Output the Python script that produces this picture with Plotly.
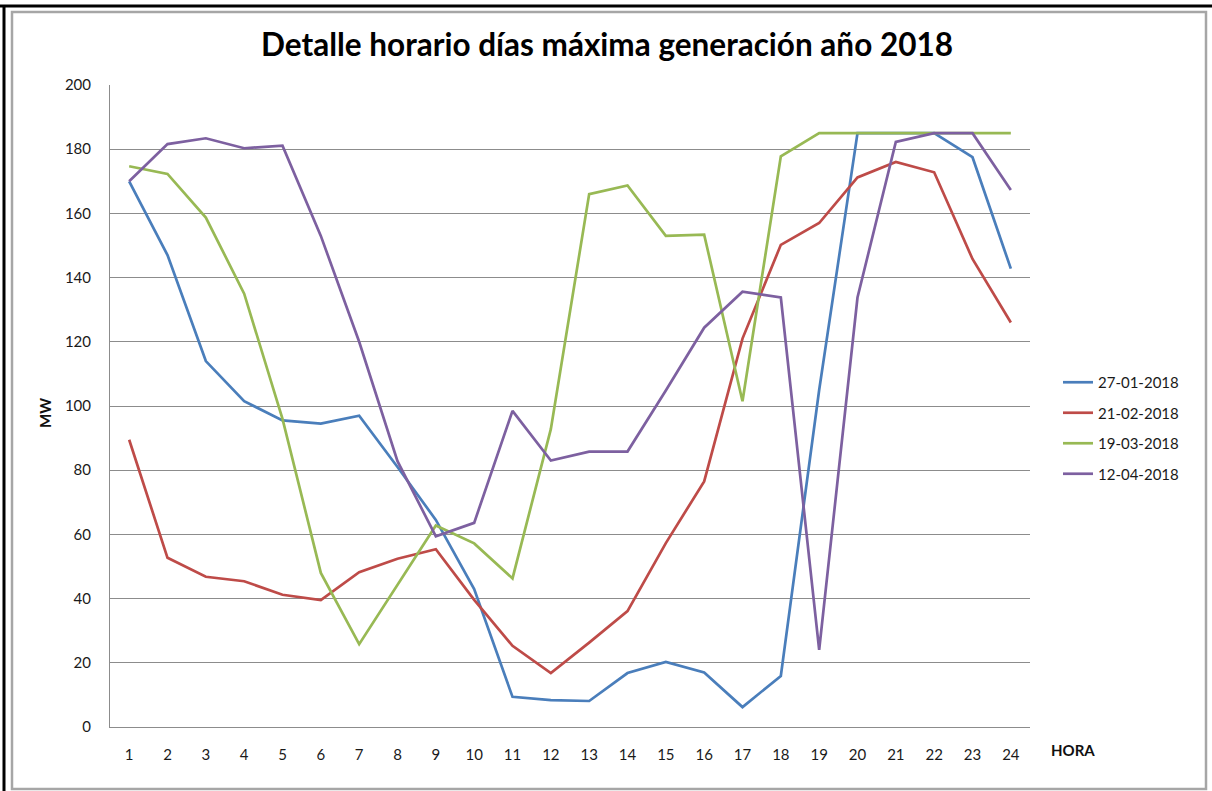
import plotly.graph_objects as go

hours = list(range(1, 25))
series_names = ["27-01-2018", "21-02-2018", "19-03-2018", "12-04-2018"]
s_27_01 = [170, 147, 114, 101.5, 95.5, 94.5, 97, 81, 64.5, 43, 9.4, 8.4, 8.1, 16.8,
           20.3, 17, 6.2, 15.9, 105, 185, 185, 185, 177.5, 142.8]
s_21_02 = [89.5, 52.7, 46.8, 45.4, 41.2, 39.5, 48.2, 52.4, 55.4, 39.6, 25.3, 16.8, 26.3, 36.1,
           57.3, 76.5, 121, 150.2, 157, 171.2, 176, 172.8, 145.8, 126]
s_19_03 = [174.7, 172.3, 158.7, 135, 96, 48, 25.8, 44.3, 62.8, 57.2, 46.3, 92.8, 166, 168.7,
           153, 153.4, 101.5, 177.8, 185, 185, 185, 185, 185, 185]
s_12_04 = [170, 181.6, 183.4, 180.3, 181.1, 153, 120, 82.8, 59.4, 63.6, 98.5, 83, 85.8, 85.8,
           104.8, 124.4, 135.6, 133.8, 24, 133.8, 182.3, 185, 185, 167.3]
series_values = [s_27_01, s_21_02, s_19_03, s_12_04]
colors = ["#4A7EBB", "#BE4B48", "#98B954", "#7D60A0"]
y_ticks = list(range(0, 201, 20))

W, H = 1212, 791
L, R, T, B = 110, 182, 85, 64
pw, ph = W - L - R, H - T - B


def px_x(px):
    return (px - L) / pw


def px_y(py):
    return (H - B - py) / ph


fig = go.Figure()
for i, (name, vals) in enumerate(zip(series_names, series_values)):
    fig.add_trace(go.Scatter(
        x=hours, y=vals, mode="lines", name=name, legendgroup=f"g{i}",
        line=dict(color=colors[i], width=2.7),
    ))

font_family = "Lato, 'Open Sans', sans-serif"
fig.update_layout(
    width=W, height=H,
    margin=dict(l=L, r=R, t=T, b=B),
    paper_bgcolor="white", plot_bgcolor="white",
    title=dict(text="<b>Detalle horario días máxima generación año 2018</b>",
               x=607 / W, xref="container", y=1 - 45 / H, yref="container",
               yanchor="middle", xanchor="center",
               font=dict(family=font_family, size=31.5, color="#000000")),
    font=dict(family=font_family, size=15, color="#1a1a1a"),
    showlegend=True,
    legend=dict(xref="container", yref="container", x=1058 / W, y=1 - 366 / H,
                xanchor="left", yanchor="top", tracegroupgap=8,
                font=dict(size=15, color="#1a1a1a"), bgcolor="rgba(0,0,0,0)"),
    xaxis=dict(range=[0.5, 24.5], tickvals=hours, ticktext=[str(h) for h in hours],
               showgrid=False, zeroline=False, showline=True, linecolor="#8c8c8c",
               linewidth=1, ticks="", ticklabelstandoff=14, fixedrange=True),
    yaxis=dict(range=[0, 200], tickvals=y_ticks, showgrid=True, gridcolor="#8c8c8c",
               gridwidth=1, zeroline=False, showline=True, linecolor="#8c8c8c",
               linewidth=1, ticks="", ticklabelstandoff=15, fixedrange=True),
    annotations=[
        dict(text="<b>MW</b>", xref="paper", yref="paper", x=px_x(45), y=px_y(413),
             showarrow=False, textangle=-90, font=dict(size=15, color="#111111"),
             xanchor="center", yanchor="middle"),
        dict(text="<b>HORA</b>", xref="paper", yref="paper", x=px_x(1073), y=px_y(750),
             showarrow=False, font=dict(size=15, color="#111111"),
             xanchor="center", yanchor="middle"),
    ],
    shapes=[
        dict(type="rect", xref="paper", yref="paper", x0=px_x(12), x1=px_x(1206),
             y0=px_y(789), y1=px_y(12), line=dict(color="#a6a6a6", width=2.5),
             layer="below"),
        dict(type="line", xref="paper", yref="paper", x0=px_x(0), x1=px_x(1212),
             y0=px_y(6), y1=px_y(6), line=dict(color="#000000", width=3)),
        dict(type="line", xref="paper", yref="paper", x0=px_x(4), x1=px_x(4),
             y0=px_y(5), y1=px_y(791), line=dict(color="#000000", width=3)),
    ],
)

fig.write_html("out.html", config={"displayModeBar": False},
               post_script="document.body.style.margin='0';document.body.style.padding='0';")
